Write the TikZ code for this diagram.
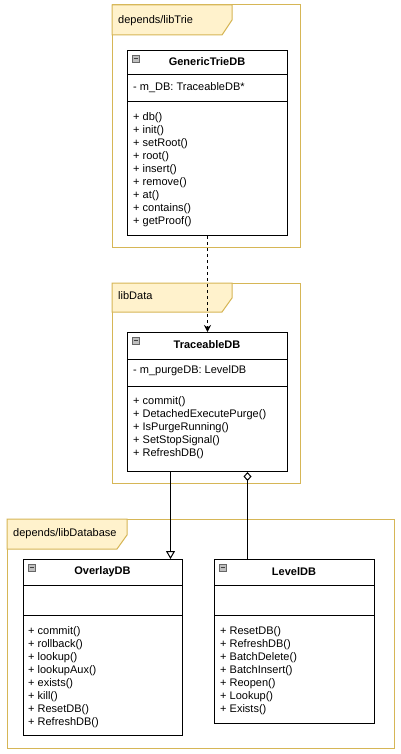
\documentclass[tikz,border=0pt]{standalone}
\usepackage{fontspec}
\setmainfont{Liberation Sans}
\usetikzlibrary{arrows.meta}
\definecolor{pkgfill}{HTML}{FFF2CC}
\definecolor{pkgdraw}{HTML}{D6B656}
\begin{document}
\begin{tikzpicture}[x=1pt,y=-1pt,
 pkg/.style={draw=pkgdraw, line width=1pt},
 tab/.style={draw=pkgdraw, fill=pkgfill, line width=1pt},
 cls/.style={draw=black, fill=white, line width=1pt, rectangle, inner sep=0pt, anchor=north west},
 sepline/.style={draw=black, line width=1pt},
 mem/.style={anchor=west, inner sep=0pt, font=\fontsize{11}{13}\selectfont, text height=8.2pt, text depth=2.4pt},
 ttl/.style={inner sep=0pt, font=\bfseries\fontsize{11}{13}\selectfont},
 plbl/.style={anchor=west, inner sep=0pt, font=\fontsize{11}{13}\selectfont, text height=8.2pt, text depth=2.4pt},
 icon/.style={draw=black!60, fill=black!25, line width=0.6pt},
 iconbar/.style={draw=black!75, line width=0.7pt},
 conn/.style={draw=black, line width=1pt}
]
\useasboundingbox (0,0) rectangle (400,754);
\fill[white] (0,0) rectangle (400,754);

% ---------- package depends/libTrie ----------
\draw[pkg] (112,5) rectangle (300,247);
\draw[tab] (112,5) -- (232,5) -- (232,20) -- (222,35) -- (112,35) -- cycle;
\node[plbl] (p1) at (118,21) {depends/libTrie};

% ---------- package libData ----------
\draw[pkg] (112,283) rectangle (300,483);
\draw[tab] (112,283) -- (232,283) -- (232,298) -- (222,312) -- (112,312) -- cycle;
\node[plbl] (p2) at (118,297) {libData};

% ---------- package depends/libDatabase ----------
\draw[pkg] (7,519) rectangle (394,748);
\draw[tab] (7,519) -- (127,519) -- (127,535) -- (117,549) -- (7,549) -- cycle;
\node[plbl] (p3) at (13,534) {depends/libDatabase};

% ---------- GenericTrieDB ----------
\node[cls, minimum width=160pt, minimum height=185pt] (gtdb) at (127,50) {};
\draw[sepline] (127,75) -- (287,75);
\draw[sepline] (127,102) -- (287,102);
\draw[icon] (132,55) rectangle (139,62);
\draw[iconbar] (133.5,58.5) -- (137.5,58.5);
\node[ttl] (gtdbt) at (207,62) {GenericTrieDB};
\node[mem] (gtdba) at (133,88) {- m\_DB: TraceableDB*};
\foreach \t [count=\i from 0] in {db(),init(),setRoot(),root(),insert(),remove(),at(),contains(),getProof()}
  \node[mem] (gtdbm\i) at (133,118+13*\i) {+ \t};

% ---------- TraceableDB ----------
\node[cls, minimum width=160pt, minimum height=139pt] (tdb) at (127,332) {};
\draw[sepline] (127,359) -- (287,359);
\draw[sepline] (127,386) -- (287,386);
\draw[icon] (132,337) rectangle (139,344);
\draw[iconbar] (133.5,340.5) -- (137.5,340.5);
\node[ttl] (tdbt) at (207,345) {TraceableDB};
\node[mem] (tdba) at (133,371) {- m\_purgeDB: LevelDB};
\foreach \t [count=\i from 0] in {commit(),DetachedExecutePurge(),IsPurgeRunning(),SetStopSignal(),RefreshDB()}
  \node[mem] (tdbm\i) at (133,402+13*\i) {+ \t};

% ---------- OverlayDB ----------
\node[cls, minimum width=159pt, minimum height=176pt] (odb) at (23,559) {};
\draw[sepline] (23,585) -- (182,585);
\draw[sepline] (23,615) -- (182,615);
\draw[icon] (28,564) rectangle (35,571);
\draw[iconbar] (29.5,567.5) -- (33.5,567.5);
\node[ttl] (odbt) at (102.5,572) {OverlayDB};
\foreach \t [count=\i from 0] in {commit(),rollback(),lookup(),lookupAux(),exists(),kill(),ResetDB(),RefreshDB()}
  \node[mem] (odbm\i) at (28,632+13*\i) {+ \t};

% ---------- LevelDB ----------
\node[cls, minimum width=160pt, minimum height=164pt] (ldb) at (214,559) {};
\draw[sepline] (214,585) -- (374,585);
\draw[sepline] (214,615) -- (374,615);
\draw[icon] (219,564) rectangle (226,571);
\draw[iconbar] (220.5,567.5) -- (224.5,567.5);
\node[ttl] (ldbt) at (294,572) {LevelDB};
\foreach \t [count=\i from 0] in {ResetDB(),RefreshDB(),BatchDelete(),BatchInsert(),Reopen(),Lookup(),Exists()}
  \node[mem] (ldbm\i) at (220,632+13*\i) {+ \t};

% ---------- connectors ----------
\draw[conn, dash pattern=on 3pt off 3pt, -{Stealth[length=7pt,width=7pt]}] (gtdb.south) -- (tdb.north);
\draw[conn, -{Triangle[open,length=8pt,width=9pt]}] ([xshift=-37pt]tdb.south) -- ([xshift=-37pt]tdb.south |- odb.north);
\draw[conn, {Diamond[open,length=9pt,width=8pt]}-] ([xshift=40pt]tdb.south) -- ([xshift=40pt]tdb.south |- ldb.north);
\end{tikzpicture}
\end{document}
